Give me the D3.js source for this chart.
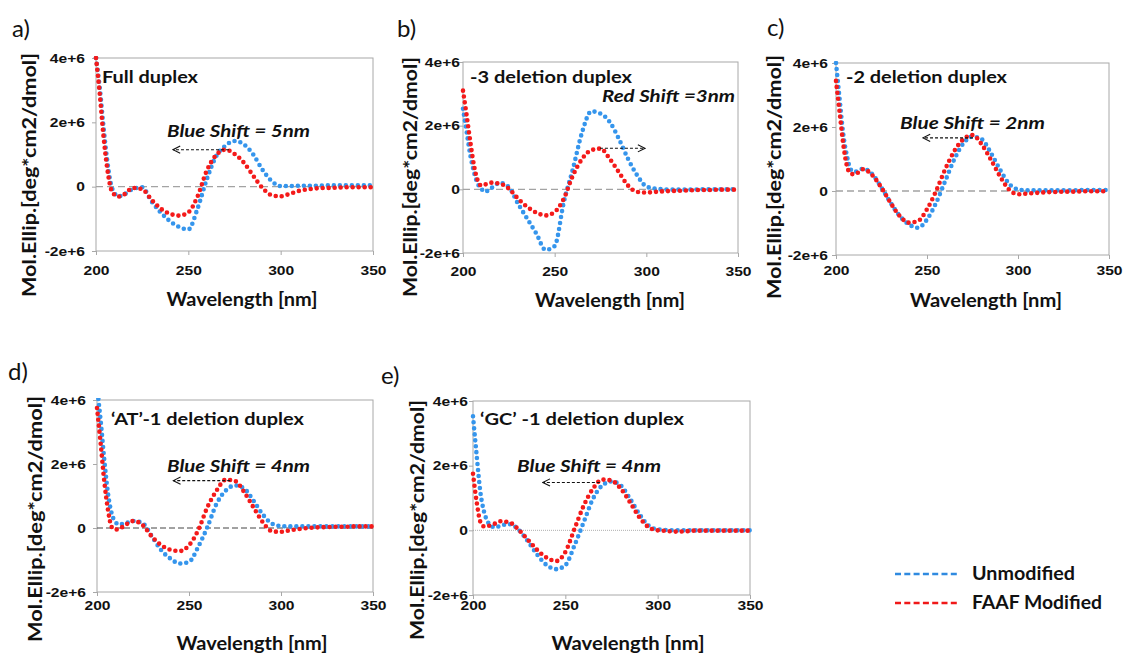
<!DOCTYPE html>
<html>
<head>
<meta charset="utf-8">
<script src="https://cdn.jsdelivr.net/npm/d3@7"></script>
<style>
  body { margin: 0; background: #fff; }
  svg { display: block; }
</style>
</head>
<body>
<script>
// CD spectra, values are in units of 1e6 deg*cm2/dmol
var wavelengths = [200,202,204,206,208,210,212,215,220,225,230,235,240,245,250,255,260,265,270,275,280,285,290,295,300,305,310,315,320,325,330,335,340,345,350];

var unmod_a = [4.0,3.1,1.9,0.85,0.1,-0.2,-0.3,-0.25,-0.07,-0.02,-0.45,-0.8,-1.07,-1.25,-1.33,-0.68,0.23,0.94,1.27,1.42,1.32,1.01,0.54,0.18,0.02,0.02,0.03,0.03,0.03,0.04,0.04,0.04,0.04,0.04,0.04];
var faaf_a  = [4.0,2.9,1.6,0.6,-0.05,-0.25,-0.31,-0.25,-0.04,-0.08,-0.4,-0.68,-0.84,-0.9,-0.8,-0.3,0.5,0.98,1.15,1.02,0.75,0.35,-0.03,-0.26,-0.3,-0.22,-0.13,-0.08,-0.05,-0.04,-0.03,-0.02,-0.02,-0.02,-0.02];

var unmod_b = [2.53,1.8,1.07,0.54,0.18,0.02,-0.08,0.02,0.2,0.07,-0.45,-0.92,-1.39,-1.9,-1.78,-0.4,0.65,1.8,2.45,2.38,2.12,1.59,0.96,0.44,0.09,0.02,0.0,-0.01,-0.01,-0.01,0.0,0.0,0.0,0.0,0.0];
var faaf_b  = [3.1,2.32,1.49,0.75,0.28,0.12,0.15,0.21,0.18,0.02,-0.29,-0.55,-0.73,-0.82,-0.71,-0.29,0.44,0.96,1.23,1.28,0.96,0.54,0.12,-0.08,-0.1,-0.08,-0.06,-0.05,-0.04,-0.03,-0.02,-0.02,-0.01,-0.01,-0.01];

var unmod_c = [4.0,2.87,1.77,1.1,0.68,0.6,0.63,0.7,0.52,0.1,-0.37,-0.78,-1.04,-1.15,-0.89,-0.37,0.31,0.99,1.49,1.7,1.62,1.2,0.68,0.23,0.05,0.02,0.02,0.02,0.02,0.02,0.02,0.03,0.03,0.03,0.03];
var faaf_c  = [3.44,2.45,1.46,0.78,0.55,0.52,0.57,0.68,0.49,0.1,-0.37,-0.78,-0.99,-0.94,-0.57,0.0,0.68,1.25,1.62,1.75,1.46,0.99,0.47,0.05,-0.1,-0.08,-0.06,-0.04,-0.03,-0.02,-0.02,-0.01,-0.01,-0.01,-0.01];

var unmod_d = [4.4,3.35,2.11,1.07,0.45,0.19,0.11,0.14,0.22,0.14,-0.28,-0.7,-0.96,-1.11,-1.06,-0.59,0.03,0.76,1.17,1.33,1.23,0.86,0.43,0.14,0.06,0.05,0.05,0.05,0.05,0.05,0.05,0.05,0.05,0.05,0.05];
var faaf_d  = [3.75,2.63,1.43,0.55,0.03,-0.05,-0.03,0.08,0.22,0.08,-0.28,-0.54,-0.68,-0.72,-0.54,-0.07,0.65,1.17,1.51,1.47,1.12,0.65,0.19,-0.1,-0.12,-0.07,-0.03,0.0,0.02,0.03,0.04,0.04,0.05,0.05,0.05];

var unmod_e = [3.53,2.31,1.18,0.57,0.26,0.13,0.09,0.15,0.19,0.0,-0.36,-0.77,-1.08,-1.2,-1.08,-0.46,0.26,0.98,1.39,1.51,1.39,0.98,0.51,0.15,0.03,0.01,0.0,0.0,0.0,0.0,0.0,0.0,0.0,0.0,0.0];
var faaf_e  = [1.75,0.87,0.26,0.12,0.13,0.17,0.21,0.28,0.24,0.0,-0.31,-0.62,-0.85,-0.95,-0.67,0.05,0.77,1.29,1.57,1.54,1.29,0.87,0.41,0.1,0.0,-0.02,-0.04,-0.03,-0.01,-0.01,-0.01,-0.01,-0.01,-0.01,-0.01];

var panelLetters = ["a)", "b)", "c)", "d)", "e)"];
var panelTitles = ["Full duplex", "-3 deletion duplex", "-2 deletion duplex", "\u2018AT\u2019-1 deletion duplex", "\u2018GC\u2019 -1 deletion duplex"];
var shiftLabels = ["Blue Shift = 5nm", "Red Shift =3nm", "Blue Shift = 2nm", "Blue Shift = 4nm", "Blue Shift = 4nm"];
// shift arrows: start / end wavelength and level (1e6)
var arrowFrom = [272, 274.7, 275.3, 272.4, 268.7];
var arrowTo = [241.7, 299.3, 247.8, 241.5, 237.8];
var arrowLevel = [1.15, 1.29, 1.66, 1.48, 1.48];

var xTicks = [200, 250, 300, 350];
var yTicks = [-2, 0, 2, 4];
var seriesNames = ["Unmodified", "FAAF Modified"];
var yLabel = "Mol.Ellip.[deg*cm2/dmol]";
var xLabel = "Wavelength [nm]";

var blue = "#3595ec";
var red = "#f41a1a";

// layout (pixels) for each panel
var layout = [
  {l: 96,  t: 58,  r: 373,  b: 251, yGap: 11, xPad: 11, letter: [12, 37],  ylab: [36, 175, 244],  xlab: [242, 306, 151], title: [6, 25, 96],   shift: [167, 137, 143], zero: "ab"},
  {l: 463, t: 62,  r: 738,  b: 253, yGap: 3,  xPad: 10, letter: [397, 37], ylab: [417, 177, 240], xlab: [610, 307, 150], title: [7, 21, 162],  shift: [602, 102, 133], zero: "ab"},
  {l: 836, t: 63,  r: 1109, b: 255, yGap: 8,  xPad: 7,  letter: [767, 36], ylab: [781, 177, 244], xlab: [986, 307, 152], title: [10, 20, 161], shift: [900, 129, 145], zero: "ab"},
  {l: 97,  t: 400, r: 373,  b: 592, yGap: 11, xPad: 5,  letter: [8, 380],  ylab: [42, 519, 246],  xlab: [252, 650, 151], title: [14, 25, 193], shift: [167, 472, 143], zero: "d"},
  {l: 473, t: 401, r: 750,  b: 595, yGap: 5,  xPad: 2,  letter: [381, 384], ylab: [424, 520, 240], xlab: [628, 650, 153], title: [7, 24, 204],  shift: [517, 472, 144], zero: "e"}
];

var panels = [
  {unmod: unmod_a, faaf: faaf_a},
  {unmod: unmod_b, faaf: faaf_b},
  {unmod: unmod_c, faaf: faaf_c},
  {unmod: unmod_d, faaf: faaf_d},
  {unmod: unmod_e, faaf: faaf_e}
];

var svg = d3.select("body").append("svg")
  .attr("width", 1123)
  .attr("height", 656);

var defs = svg.append("defs");
defs.append("marker")
  .attr("id", "arrowhead")
  .attr("viewBox", "0 0 10 10")
  .attr("refX", 9).attr("refY", 5)
  .attr("markerWidth", 9).attr("markerHeight", 9)
  .attr("markerUnits", "userSpaceOnUse")
  .attr("orient", "auto")
  .append("path")
  .attr("d", "M1,1 L9,5 L1,9")
  .attr("fill", "none")
  .attr("stroke", "#111")
  .attr("stroke-width", 1.2);

var calibri = "Lato, 'Open Sans', sans-serif";
var arial = "'Liberation Sans', Arial, sans-serif";

function fit(sel, w) {
  sel.attr("textLength", w).attr("lengthAdjust", "spacingAndGlyphs");
}

panels.forEach(function (p, i) {
  var L = layout[i];
  var g = svg.append("g");

  var x = d3.scaleLinear().domain([200, 350]).range([L.l, L.r]);
  var y = d3.scaleLinear().domain([-2e6, 4e6]).range([L.b, L.t]);

  // panel letter
  g.append("text")
    .attr("x", L.letter[0]).attr("y", L.letter[1])
    .attr("font-family", calibri).attr("font-size", 24)
    .attr("fill", "#111")
    .text(panelLetters[i]);

  // frame
  g.append("rect")
    .attr("x", L.l).attr("y", L.t)
    .attr("width", L.r - L.l).attr("height", L.b - L.t)
    .attr("fill", "#fff")
    .attr("stroke", "#a8a8a8").attr("stroke-width", 1);

  // zero line
  var z = g.append("line")
    .attr("x1", L.l).attr("x2", L.r)
    .attr("y1", y(0)).attr("y2", y(0));
  if (L.zero == "ab") {
    z.attr("stroke", "#a3a3a3").attr("stroke-width", 1.4).attr("stroke-dasharray", "7,4");
  } else if (L.zero == "d") {
    z.attr("stroke", "#444").attr("stroke-width", 1).attr("stroke-dasharray", "6,3");
  } else {
    z.attr("stroke", "#999").attr("stroke-width", 0.8).attr("stroke-dasharray", "1,1");
  }

  // axes
  var yAxis = d3.axisLeft(y)
    .tickValues(yTicks.map(function (v) { return v * 1e6; }))
    .tickFormat(function (v) { return v == 0 ? "0" : (v / 1e6) + "e+6"; })
    .tickSize(4)
    .tickPadding(L.yGap - 4);
  var xAxis = d3.axisBottom(x)
    .tickValues(xTicks)
    .tickSize(4)
    .tickPadding(L.xPad);

  var ya = g.append("g").attr("transform", "translate(" + L.l + ",0)").call(yAxis);
  var xa = g.append("g").attr("transform", "translate(0," + L.b + ")").call(xAxis);
  [ya, xa].forEach(function (a) {
    a.select(".domain").remove();
    a.selectAll(".tick line").attr("stroke", "#a8a8a8");
    a.selectAll(".tick text")
      .attr("font-family", arial)
      .attr("font-size", 13)
      .attr("font-weight", "bold")
      .attr("fill", "#111")
      .classed("stretch", true);
  });

  // clip
  var clipId = "clip" + i;
  defs.append("clipPath").attr("id", clipId)
    .append("rect")
    .attr("x", L.l - 3).attr("y", L.t - 2)
    .attr("width", L.r - L.l + 6).attr("height", L.b - L.t + 4);

  var line = d3.line()
    .x(function (d) { return x(d[0]); })
    .y(function (d) { return y(d[1] * 1e6); })
    .curve(d3.curveMonotoneX);

  var plot = g.append("g").attr("clip-path", "url(#" + clipId + ")");
  [[p.unmod, blue], [p.faaf, red]].forEach(function (s) {
    var pts = wavelengths.map(function (w, k) { return [w, s[0][k]]; });
    plot.append("path")
      .attr("d", line(pts))
      .attr("fill", "none")
      .attr("stroke", s[1])
      .attr("stroke-width", 4.6)
      .attr("stroke-linecap", "round")
      .attr("stroke-dasharray", "0,6");
  });

  // annotations
  g.append("text")
    .attr("x", L.l + L.title[0]).attr("y", L.t + L.title[1])
    .attr("font-family", calibri).attr("font-size", 17).attr("font-weight", "bold")
    .attr("fill", "#111")
    .text(panelTitles[i])
    .call(fit, L.title[2]);

  g.append("text")
    .attr("x", L.shift[0]).attr("y", L.shift[1])
    .attr("font-family", calibri).attr("font-size", 17).attr("font-weight", "bold")
    .attr("font-style", "italic")
    .attr("fill", "#111")
    .text(shiftLabels[i])
    .call(fit, L.shift[2]);

  g.append("line")
    .attr("x1", x(arrowFrom[i])).attr("x2", x(arrowTo[i]))
    .attr("y1", y(arrowLevel[i] * 1e6)).attr("y2", y(arrowLevel[i] * 1e6))
    .attr("stroke", "#111").attr("stroke-width", 1.1)
    .attr("stroke-dasharray", "3,2")
    .attr("marker-end", "url(#arrowhead)");

  // axis titles
  g.append("text")
    .attr("transform", "translate(" + L.ylab[0] + "," + L.ylab[1] + ") rotate(-90)")
    .attr("text-anchor", "middle")
    .attr("font-family", calibri).attr("font-size", 18).attr("font-weight", "bold")
    .attr("fill", "#111")
    .text(yLabel)
    .call(fit, L.ylab[2]);

  g.append("text")
    .attr("x", L.xlab[0]).attr("y", L.xlab[1])
    .attr("text-anchor", "middle")
    .attr("font-family", calibri).attr("font-size", 19).attr("font-weight", "bold")
    .attr("fill", "#111")
    .text(xLabel)
    .call(fit, L.xlab[2]);
});

// tick labels in the reference are a bit wider than Arial
svg.selectAll("text.stretch").each(function () {
  var w = this.getComputedTextLength();
  d3.select(this).call(fit, w * 1.2);
});

// legend
var legend = svg.append("g");
[[blue, 574, 130], [red, 603, 130]].forEach(function (s, k) {
  legend.append("line")
    .attr("x1", 895).attr("x2", 960)
    .attr("y1", s[1]).attr("y2", s[1])
    .attr("stroke", k == 0 ? "#2f8ae0" : "#f01818")
    .attr("stroke-width", 2.5)
    .attr("stroke-dasharray", "6,3.3");
  legend.append("text")
    .attr("x", 972).attr("y", s[1] + 6)
    .attr("font-family", calibri).attr("font-size", 18).attr("font-weight", "bold")
    .attr("fill", "#111")
    .text(seriesNames[k])
    .call(fit, k == 0 ? 103 : 130);
});
</script>
</body>
</html>
